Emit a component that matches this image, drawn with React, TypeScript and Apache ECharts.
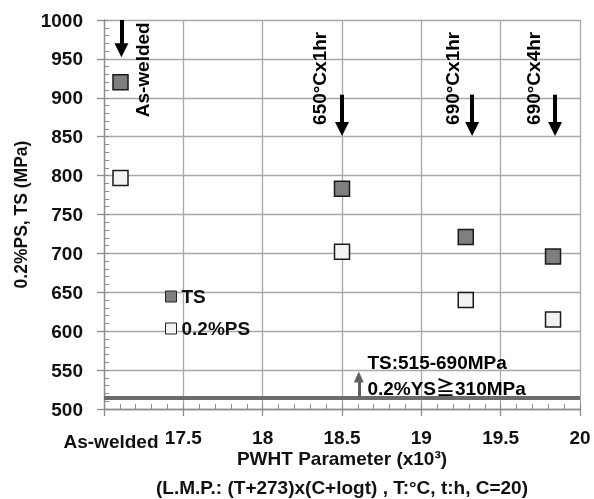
import React, { useEffect, useRef } from "react";
import * as echarts from "echarts";

// ---- data ----
const conditions = ["As-welded", "650°Cx1hr", "690°Cx1hr", "690°Cx4hr"];
const lmpValues = [17.104, 18.5, 19.28, 19.83];
const tsValues = [920, 783, 721, 696];
const psValues = [797, 702, 640, 615];

// condition labels (rotated) and arrows
const labelX = [17.243, 18.36, 19.195, 19.71];
const labelY = [936, 925, 925, 925];
const arrowX = [17.11, 18.5, 19.32, 19.843];
const arrowTop = [1000, 904, 904, 904];
const arrowEnd = [961, 860, 860, 860];

// spec
const specTS = 515;
const specArrowX = 18.606;
const specArrowEnd = 541;
const specNotes = ["TS:515-690MPa", "0.2%YS≧310MPa"];
const specNoteX = [18.66, 18.66];
const specNoteY = [560, 526];

// axes
const xMin = 17;
const xMax = 20;
const xInterval = 0.5;
const yMin = 500;
const yMax = 1000;
const yInterval = 50;

const FONT = "'Liberation Sans', 'Noto Sans CJK JP', sans-serif";
const TXT = "#111";

export default function App() {
  const ref = useRef<HTMLDivElement>(null);
  useEffect(() => {
    if (!ref.current) return;
    const chart = echarts.init(ref.current, null, { renderer: "svg" });
    const grid = "#a8a8a8";
    const noteLabel = {
      show: true,
      formatter: "{b}",
      fontFamily: FONT,
      fontWeight: "bold",
      fontSize: 19,
      color: "#000",
      opacity: 1,
      textBorderWidth: 0,
    };
    const option: any = {
      animation: false,
      textStyle: { fontFamily: FONT, fontWeight: "bold", color: TXT },
      grid: {
        left: 104,
        right: 14,
        top: 20,
        bottom: 90,
        containLabel: false,
        outerBoundsMode: "none",
      },
      legend: {
        data: ["TS", "0.2%PS"],
        orient: "vertical",
        left: 160,
        top: 282,
        itemGap: 13,
        itemWidth: 11,
        itemHeight: 11,
        icon: "rect",
        itemStyle: { borderWidth: 1, borderColor: "#222" },
        textStyle: { fontFamily: FONT, fontWeight: "bold", fontSize: 19, color: TXT },
      },
      xAxis: [
        {
          type: "value",
          min: xMin,
          max: xMax,
          interval: xInterval,
          position: "bottom",
          axisLine: { show: true, lineStyle: { color: "#8c8c8c", width: 1.3 } },
          axisTick: { show: true, inside: false, length: 7, lineStyle: { color: "#8c8c8c", width: 1.3 } },
          splitLine: { show: true, lineStyle: { color: grid, width: 1.3 } },
          axisLabel: {
            margin: 19,
            fontFamily: FONT,
            fontWeight: "bold",
            fontSize: 19,
            color: TXT,
            formatter: (v: number) => (Math.abs(v - xMin) < 1e-6 ? "{aw|As-welded}" : String(v)),
            rich: {
              aw: { fontFamily: FONT, fontWeight: "bold", fontSize: 19, color: TXT, padding: [4, 0, 0, 14] },
            },
          },
          name: "PWHT Parameter (x10³)\n(L.M.P.: (T+273)x(C+logt) , T:°C, t:h, C=20)",
          nameLocation: "middle",
          nameGap: 34.5,
          nameMoveOverlap: false,
          nameTextStyle: {
            fontFamily: FONT,
            fontWeight: "bold",
            fontSize: 19,
            color: TXT,
            lineHeight: 29,
            verticalAlign: "top",
          },
        },
        {
          type: "value",
          min: xMin,
          max: xMax,
          interval: 0.1,
          position: "bottom",
          axisLine: { show: false },
          axisTick: { show: true, inside: true, length: 5, lineStyle: { color: "#8c8c8c", width: 1 } },
          axisLabel: { show: false },
          splitLine: { show: false },
        },
      ],
      yAxis: [
        {
          type: "value",
          min: yMin,
          max: yMax,
          interval: yInterval,
          position: "left",
          axisLine: { show: true, lineStyle: { color: "#8c8c8c", width: 1.3 } },
          axisTick: { show: true, inside: false, length: 7, lineStyle: { color: "#8c8c8c", width: 1.3 } },
          splitLine: { show: true, lineStyle: { color: grid, width: 1.3 } },
          axisLabel: {
            margin: 21,
            fontFamily: FONT,
            fontWeight: "bold",
            fontSize: 19,
            color: TXT,
            formatter: (v: number) => String(v),
          },
          name: "0.2%PS, TS (MPa)",
          nameLocation: "middle",
          nameGap: 74,
          nameMoveOverlap: false,
          nameTextStyle: { fontFamily: FONT, fontWeight: "bold", fontSize: 17.5, color: TXT },
        },
        {
          type: "value",
          min: yMin,
          max: yMax,
          interval: 10,
          position: "left",
          offset: 0,
          axisLine: { show: false },
          axisTick: { show: true, inside: true, length: 5, lineStyle: { color: "#8c8c8c", width: 1 } },
          axisLabel: { show: false },
          splitLine: { show: false },
        },
      ],
      series: [
        {
          name: "TS",
          type: "scatter",
          symbol: "rect",
          symbolSize: 15,
          itemStyle: { color: "#7f7f7f", borderColor: "#1a1a1a", borderWidth: 1.5, opacity: 1 },
          data: lmpValues.map((x, i) => [x, tsValues[i]]),
          z: 5,
        },
        {
          name: "0.2%PS",
          type: "scatter",
          symbol: "rect",
          symbolSize: 15,
          itemStyle: { color: "#f2f2f2", borderColor: "#1a1a1a", borderWidth: 1.5, opacity: 1 },
          data: lmpValues.map((x, i) => [x, psValues[i]]),
          z: 5,
          markLine: {
            silent: true,
            symbol: ["none", "none"],
            label: { show: false },
            lineStyle: { color: "#6b6b6b", width: 4, type: "solid" },
            data: [{ yAxis: specTS }],
          },
        },
        {
          name: "conditions",
          type: "scatter",
          symbol: "circle",
          symbolSize: 0,
          silent: true,
          itemStyle: { color: "#000", opacity: 1 },
          label: { ...noteLabel, position: "inside", rotate: 90 },
          data: conditions.map((c, i) => ({ name: c, value: [labelX[i], labelY[i]] })),
          markLine: {
            silent: true,
            symbol: ["none", "triangle"],
            symbolSize: [14, 14],
            label: { show: false },
            lineStyle: { color: "#000", width: 4, type: "solid", opacity: 1 },
            itemStyle: { color: "#000" },
            data: arrowX.map((x, i) => [
              { coord: [x, arrowTop[i]] },
              { coord: [x, arrowEnd[i]] },
            ]),
          },
        },
        {
          name: "spec",
          type: "scatter",
          symbol: "circle",
          symbolSize: 0,
          silent: true,
          itemStyle: { color: "#000", opacity: 1 },
          label: { ...noteLabel, position: "right", distance: 0 },
          data: specNotes.map((t, i) => ({ name: t, value: [specNoteX[i], specNoteY[i]] })),
          markLine: {
            silent: true,
            symbol: ["none", "triangle"],
            symbolSize: [10, 11],
            label: { show: false },
            lineStyle: { color: "#606060", width: 3, type: "solid", opacity: 1 },
            itemStyle: { color: "#606060" },
            data: [[{ coord: [specArrowX, specTS] }, { coord: [specArrowX, specArrowEnd] }]],
          },
        },
      ],
    };
    chart.setOption(option);
    return () => chart.dispose();
  }, []);
  return (
    <div
      ref={ref}
      style={{ position: "fixed", left: 0, top: 0, width: 594, height: 499 }}
    />
  );
}
